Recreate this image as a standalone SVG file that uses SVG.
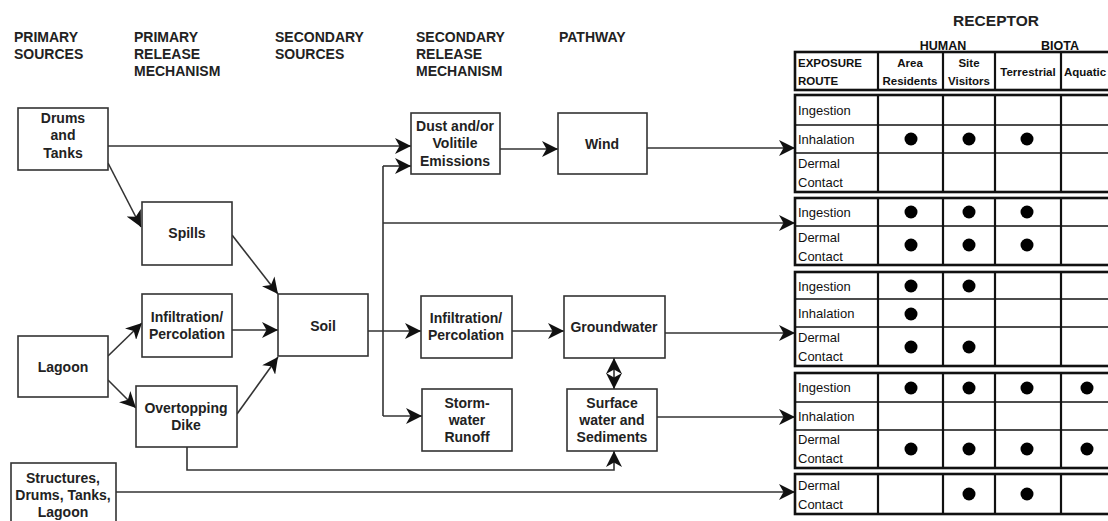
<svg xmlns="http://www.w3.org/2000/svg" width="1108" height="521" viewBox="0 0 1108 521">
<style>
.hdr{font-family:"Liberation Sans",Arial,sans-serif;font-weight:bold;font-size:14px;fill:#222}
.rc{font-family:"Liberation Sans",Arial,sans-serif;font-weight:bold;font-size:15.5px;fill:#222;text-anchor:middle}
.nt{font-family:"Liberation Sans",Arial,sans-serif;font-weight:bold;font-size:14px;fill:#222;text-anchor:middle}
.box{fill:#fff;stroke:#333;stroke-width:1.6}
.cn{fill:none;stroke:#333;stroke-width:1.6}
.ar{marker-end:url(#ah)}
.tt{font-family:"Liberation Sans",Arial,sans-serif;font-size:13px;fill:#111}
.th{font-family:"Liberation Sans",Arial,sans-serif;font-size:11.5px;font-weight:bold;fill:#111}
.hb{font-family:"Liberation Sans",Arial,sans-serif;font-size:12.5px;font-weight:bold;fill:#111;text-anchor:middle}
.mid{text-anchor:middle}
.grp{fill:#fff;stroke:#111;stroke-width:2.6}
.col{stroke:#111;stroke-width:2.2}
.row{stroke:#111;stroke-width:1.6}
.dot{fill:#000}
</style>
<defs>
<marker id="ah" markerUnits="userSpaceOnUse" markerWidth="17" markerHeight="16" refX="16" refY="8" orient="auto-start-reverse" viewBox="0 0 17 16">
<path d="M0,0 L16,8 L0,16 L4.5,8 z" fill="#111"/>
</marker>
</defs>

<g id="headers">
<text class="hdr" x="14" y="42">PRIMARY</text>
<text class="hdr" x="14" y="59">SOURCES</text>
<text class="hdr" x="134" y="42">PRIMARY</text>
<text class="hdr" x="134" y="59">RELEASE</text>
<text class="hdr" x="134" y="76">MECHANISM</text>
<text class="hdr" x="275" y="42">SECONDARY</text>
<text class="hdr" x="275" y="59">SOURCES</text>
<text class="hdr" x="416" y="42">SECONDARY</text>
<text class="hdr" x="416" y="59">RELEASE</text>
<text class="hdr" x="416" y="76">MECHANISM</text>
<text class="hdr" x="559" y="42">PATHWAY</text>
</g>

<g id="connectors">
<path class="cn ar" d="M108,146 H411"/>
<path class="cn ar" d="M108,163 L141,227"/>
<path class="cn ar" d="M232,235 L278,294"/>
<path class="cn ar" d="M232,330 H278"/>
<path class="cn ar" d="M237,414 L278,357"/>
<path class="cn ar" d="M108,356 L142,323"/>
<path class="cn ar" d="M108,380 L136,408"/>
<path class="cn" d="M383,166 V416"/>
<path class="cn ar" d="M383,166 H411"/>
<path class="cn ar" d="M383,223 H795"/>
<path class="cn ar" d="M368,331 H421"/>
<path class="cn ar" d="M383,416 H422"/>
<path class="cn ar" d="M500,149 H558"/>
<path class="cn ar" d="M647,148 H795"/>
<path class="cn ar" d="M512,331 H564"/>
<path class="cn ar" d="M665,333 H795"/>
<path class="cn" d="M614,358 V389" marker-start="url(#ah)" marker-end="url(#ah)"/>
<path class="cn ar" d="M657,417 H795"/>
<path class="cn ar" d="M187,447 V470 H614 V451"/>
<path class="cn ar" d="M116,492 H795"/>
</g>

<g id="drums-tanks"><rect class="box" x="18" y="108" width="90" height="62"/>
<text class="nt" x="63" y="123">Drums</text><text class="nt" x="63" y="140">and</text><text class="nt" x="63" y="158">Tanks</text></g>
<g id="spills"><rect class="box" x="142" y="202" width="90" height="63"/>
<text class="nt" x="187" y="238">Spills</text></g>
<g id="lagoon"><rect class="box" x="18" y="336" width="90" height="61"/>
<text class="nt" x="63" y="372">Lagoon</text></g>
<g id="infiltration1"><rect class="box" x="142" y="294" width="90" height="63"/>
<text class="nt" x="187" y="322">Infiltration/</text><text class="nt" x="187" y="339">Percolation</text></g>
<g id="overtopping"><rect class="box" x="136" y="386" width="101" height="61"/>
<text class="nt" x="186" y="413">Overtopping</text><text class="nt" x="186" y="430">Dike</text></g>
<g id="structures"><rect class="box" x="11" y="463" width="105" height="64"/>
<text class="nt" x="63" y="483">Structures,</text><text class="nt" x="63" y="500">Drums, Tanks,</text><text class="nt" x="63" y="517">Lagoon</text></g>
<g id="soil"><rect class="box" x="278" y="294" width="90" height="62"/>
<text class="nt" x="323" y="331">Soil</text></g>
<g id="dust"><rect class="box" x="411" y="113" width="89" height="61"/>
<text class="nt" x="455" y="131">Dust and/or</text><text class="nt" x="455" y="148">Volitile</text><text class="nt" x="455" y="166">Emissions</text></g>
<g id="infiltration2"><rect class="box" x="421" y="296" width="91" height="62"/>
<text class="nt" x="466" y="323">Infiltration/</text><text class="nt" x="466" y="340">Percolation</text></g>
<g id="stormwater"><rect class="box" x="422" y="389" width="90" height="62"/>
<text class="nt" x="467" y="408">Storm-</text><text class="nt" x="467" y="425">water</text><text class="nt" x="467" y="442">Runoff</text></g>
<g id="wind"><rect class="box" x="558" y="113" width="89" height="61"/>
<text class="nt" x="602" y="149">Wind</text></g>
<g id="groundwater"><rect class="box" x="564" y="296" width="101" height="62"/>
<text class="nt" x="614" y="332">Groundwater</text></g>
<g id="surface-water"><rect class="box" x="567" y="389" width="90" height="62"/>
<text class="nt" x="612" y="408">Surface</text><text class="nt" x="612" y="425">water and</text><text class="nt" x="612" y="442">Sediments</text></g>

<g id="receptor-table">
<text class="rc" x="996" y="26">RECEPTOR</text>
<text class="hb" x="943" y="50">HUMAN</text>
<text class="hb" x="1060" y="50">BIOTA</text>

<rect class="grp" x="795" y="52" width="320" height="38"/>
<line class="col" x1="878" y1="52" x2="878" y2="90"/><line class="col" x1="943" y1="52" x2="943" y2="90"/><line class="col" x1="995" y1="52" x2="995" y2="90"/><line class="col" x1="1061" y1="52" x2="1061" y2="90"/>
<text class="th" x="798" y="67">EXPOSURE</text><text class="th" x="798" y="85">ROUTE</text>
<text class="th mid" x="910" y="67">Area</text><text class="th mid" x="910" y="85">Residents</text>
<text class="th mid" x="969" y="67">Site</text><text class="th mid" x="969" y="85">Visitors</text>
<text class="th mid" x="1028" y="76">Terrestrial</text>
<text class="th" x="1064" y="76">Aquatic</text>

<rect class="grp" x="795" y="95" width="320" height="97"/>
<line class="row" x1="795" y1="125" x2="1115" y2="125"/><line class="row" x1="795" y1="153" x2="1115" y2="153"/>
<line class="col" x1="878" y1="95" x2="878" y2="192"/><line class="col" x1="943" y1="95" x2="943" y2="192"/><line class="col" x1="995" y1="95" x2="995" y2="192"/><line class="col" x1="1061" y1="95" x2="1061" y2="192"/>
<text class="tt" x="798" y="115">Ingestion</text><text class="tt" x="798" y="144">Inhalation</text>
<text class="tt" x="798" y="168">Dermal</text><text class="tt" x="798" y="187">Contact</text>
<circle class="dot" cx="911" cy="139" r="6.5"/><circle class="dot" cx="969" cy="139" r="6.5"/><circle class="dot" cx="1027" cy="139" r="6.5"/>

<rect class="grp" x="795" y="198" width="320" height="67"/>
<line class="row" x1="795" y1="226" x2="1115" y2="226"/>
<line class="col" x1="878" y1="198" x2="878" y2="265"/><line class="col" x1="943" y1="198" x2="943" y2="265"/><line class="col" x1="995" y1="198" x2="995" y2="265"/><line class="col" x1="1061" y1="198" x2="1061" y2="265"/>
<text class="tt" x="798" y="217">Ingestion</text>
<text class="tt" x="798" y="242">Dermal</text><text class="tt" x="798" y="261">Contact</text>
<circle class="dot" cx="911" cy="212" r="6.5"/><circle class="dot" cx="969" cy="212" r="6.5"/><circle class="dot" cx="1027" cy="212" r="6.5"/>
<circle class="dot" cx="911" cy="245" r="6.5"/><circle class="dot" cx="969" cy="245" r="6.5"/><circle class="dot" cx="1027" cy="245" r="6.5"/>

<rect class="grp" x="795" y="272" width="320" height="94"/>
<line class="row" x1="795" y1="299" x2="1115" y2="299"/><line class="row" x1="795" y1="327" x2="1115" y2="327"/>
<line class="col" x1="878" y1="272" x2="878" y2="366"/><line class="col" x1="943" y1="272" x2="943" y2="366"/><line class="col" x1="995" y1="272" x2="995" y2="366"/><line class="col" x1="1061" y1="272" x2="1061" y2="366"/>
<text class="tt" x="798" y="291">Ingestion</text><text class="tt" x="798" y="318">Inhalation</text>
<text class="tt" x="798" y="342">Dermal</text><text class="tt" x="798" y="361">Contact</text>
<circle class="dot" cx="911" cy="286" r="6.5"/><circle class="dot" cx="969" cy="286" r="6.5"/>
<circle class="dot" cx="911" cy="314" r="6.5"/>
<circle class="dot" cx="911" cy="347" r="6.5"/><circle class="dot" cx="969" cy="347" r="6.5"/>

<rect class="grp" x="795" y="373" width="320" height="95"/>
<line class="row" x1="795" y1="402" x2="1115" y2="402"/><line class="row" x1="795" y1="430" x2="1115" y2="430"/>
<line class="col" x1="878" y1="373" x2="878" y2="468"/><line class="col" x1="943" y1="373" x2="943" y2="468"/><line class="col" x1="995" y1="373" x2="995" y2="468"/><line class="col" x1="1061" y1="373" x2="1061" y2="468"/>
<text class="tt" x="798" y="392">Ingestion</text><text class="tt" x="798" y="421">Inhalation</text>
<text class="tt" x="798" y="444">Dermal</text><text class="tt" x="798" y="463">Contact</text>
<circle class="dot" cx="911" cy="388" r="6.5"/><circle class="dot" cx="969" cy="388" r="6.5"/><circle class="dot" cx="1027" cy="388" r="6.5"/><circle class="dot" cx="1087" cy="388" r="6.5"/>
<circle class="dot" cx="911" cy="449" r="6.5"/><circle class="dot" cx="969" cy="449" r="6.5"/><circle class="dot" cx="1027" cy="449" r="6.5"/><circle class="dot" cx="1087" cy="449" r="6.5"/>

<rect class="grp" x="795" y="474" width="320" height="40"/>
<line class="col" x1="878" y1="474" x2="878" y2="514"/><line class="col" x1="943" y1="474" x2="943" y2="514"/><line class="col" x1="995" y1="474" x2="995" y2="514"/><line class="col" x1="1061" y1="474" x2="1061" y2="514"/>
<text class="tt" x="798" y="490">Dermal</text><text class="tt" x="798" y="509">Contact</text>
<circle class="dot" cx="969" cy="494" r="6.5"/><circle class="dot" cx="1027" cy="494" r="6.5"/>
</g>
</svg>
